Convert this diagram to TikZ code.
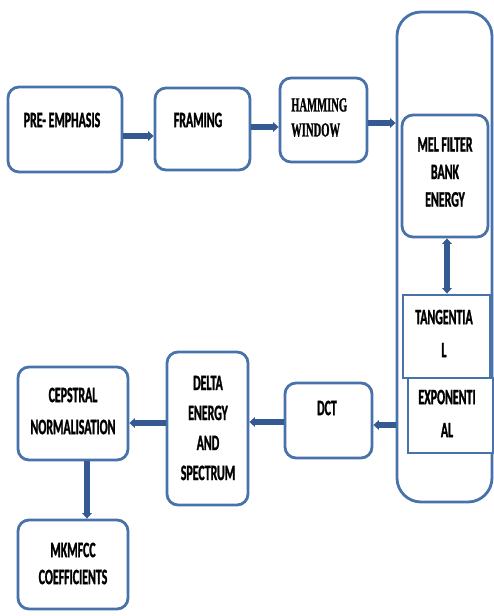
\documentclass[tikz,border=0pt]{standalone}
\usepackage{fontspec}
\usetikzlibrary{arrows.meta}
\newfontfamily\calfont{Carlito}[FakeStretch=0.54, BoldFeatures={FakeBold=1.2}]
\newfontfamily\serfont{Liberation Serif}[FakeStretch=0.53, BoldFeatures={FakeBold=1}]
\definecolor{bordercol}{RGB}{72,114,170}
\definecolor{arrowcol}{RGB}{52,90,145}
\newcommand{\tsz}[1]{\calfont\bfseries\fontsize{22}{#1}\selectfont}
\tikzset{
  box/.style={draw=bordercol, line width=2.8pt, rounded corners=11pt, fill=white, inner sep=0pt},
  sqbox/.style={draw=bordercol, line width=2.8pt, fill=white, inner sep=0pt},
  txt/.style={align=center, inner sep=0pt, text=black},
  flow/.style={draw=arrowcol, line width=5.5pt, -{Triangle[width=9.5pt,length=5.5pt]}},
  flowboth/.style={draw=arrowcol, line width=5.5pt, {Triangle[width=9.5pt,length=5.5pt]}-{Triangle[width=9.5pt,length=5.5pt]}}
}
\begin{document}
\begin{tikzpicture}[x=1pt,y=-1pt]
\useasboundingbox (0,0) rectangle (494,616);
% boxes
\node[box, minimum width=114pt, minimum height=85pt] (pre) at (65,129.5) {};
\node[box, minimum width=95pt, minimum height=82pt] (framing) at (202.5,129) {};
\node[box, minimum width=87pt, minimum height=84pt] (hamming) at (323.5,120) {};
\node[box, rounded corners=24pt, minimum width=95pt, minimum height=490pt] (cont) at (444.5,257) {};
\node[box, minimum width=86pt, minimum height=122pt] (mel) at (445,176) {};
\node[sqbox, minimum width=87pt, minimum height=83pt] (tang) at (446.5,336.5) {};
\node[sqbox, minimum width=85pt, minimum height=75pt] (expo) at (450.5,415.5) {};
\node[box, minimum width=87pt, minimum height=75pt] (dct) at (328.5,420.5) {};
\node[box, minimum width=81pt, minimum height=153pt] (delta) at (207.5,428.5) {};
\node[box, minimum width=110pt, minimum height=93pt] (cep) at (73,413.5) {};
\node[box, minimum width=110pt, minimum height=89pt] (mk) at (73,564.5) {};
% texts
\node[txt, font=\tsz{23}] (tpre) at (62,120) {PRE- EMPHASIS};
\node[txt, font=\tsz{23}] (tfr) at (198,120) {FRAMING};
\node[txt, align=left, anchor=west, font=\serfont\bfseries\fontsize{20}{25}\selectfont] (tham) at (291,117.5) {HAMMING\\WINDOW};
\node[txt, font=\tsz{27.5}] (tmel) at (445,172) {MEL FILTER\\BANK\\ENERGY};
\node[txt, font=\tsz{33}] (ttang) at (444,333.5) {TANGENTIA\\L};
\node[txt, font=\tsz{33}] (texpo) at (447,413.5) {EXPONENTI\\AL};
\node[txt, font=\tsz{23}] (tdct) at (327,408) {DCT};
\node[txt, font=\tsz{30}] (tdelta) at (208,428) {DELTA\\ENERGY\\AND\\SPECTRUM};
\node[txt, font=\tsz{32}] (tcep) at (73,411) {CEPSTRAL\\NORMALISATION};
\node[txt, font=\tsz{27}] (tmk) at (73,563.5) {MKMFCC\\COEFFICIENTS};
% connectors
\draw[flow] (pre.east |- 0,136) -- (framing.west |- 0,136);
\draw[flow] (framing.east |- 0,127) -- (hamming.west |- 0,127);
\draw[flow] (hamming.east |- 0,123) -- (cont.west |- 0,123);
\draw[flowboth] (mel.south -| 447,0) -- (tang.north -| 447,0);
\draw[flow] (cont.west |- 0,425) -- (dct.east |- 0,425);
\draw[flow] (dct.west |- 0,422) -- (delta.east |- 0,422);
\draw[flow] (delta.west |- 0,423) -- (cep.east |- 0,423);
\draw[flow] (cep.south -| 87,0) -- (mk.north -| 87,0);
\end{tikzpicture}
\end{document}
